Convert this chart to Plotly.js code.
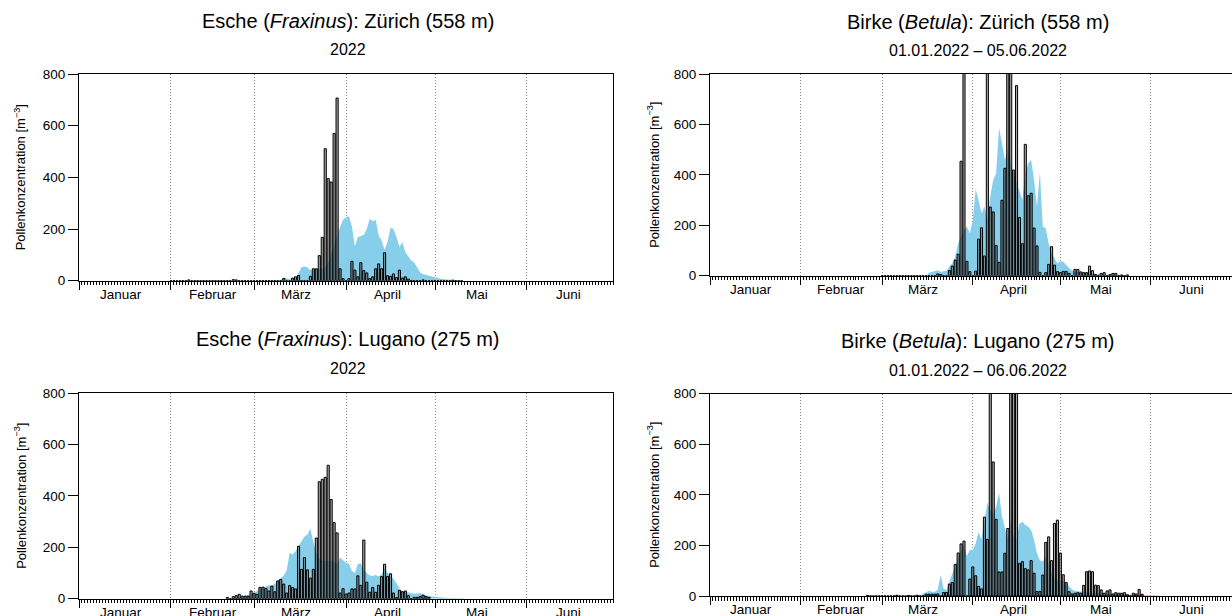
<!DOCTYPE html>
<html><head><meta charset="utf-8">
<script src="https://cdn.plot.ly/plotly-3.0.1.min.js"></script>
<style>html,body{margin:0;padding:0;background:#fff}#chart{width:1232px;height:616px}</style>
</head><body><div id="chart"></div>
<script>
// ---------- data (day index: 0 = 01.01.2022) ----------
const monthNames = ["Januar", "Februar", "März", "April", "Mai", "Juni"];
const monthStartDays = [0, 31, 59, 90, 120, 151];
const yTicks = [0, 200, 400, 600, 800];

// Esche Zürich
const zhEscheObsStart = 31;
const zhEscheObs = [0,0,0,0,0,0,3,0,0,0,0,0,0,0,0,0,0,0,0,0,0,4,3,0,0,0,0,0,
  0,0,0,0,0,0,0,0,0,0,8,0,0,10,15,20,0,0,0,17,46,46,97,168,511,395,382,570,707,46,8,
  0,8,75,41,15,70,39,30,8,15,46,65,46,108,19,17,26,12,41,10,15,6,1,0,0,0,3,0,0,0,
  0,0,0,0,0,0,2,0,0,0];
const zhEscheMeanStart = 59;
const zhEscheMean = [0,0,0,0,0,0,0,0,0,2,13,10,6,6,10,30,52,55,51,40,44,45,45,46,52,70,105,135,178,204,236,
  246,249,210,133,170,172,178,200,240,230,236,175,155,120,150,205,200,170,130,150,110,95,78,70,50,32,25,22,19,15,
  12,10,8,6,5,4,3,2,2,1,0];

// Birke Zürich
const zhBirkeObsStart = 59;
const zhBirkeObs = [0,0,0,0,0,0,0,0,0,0,0,0,0,0,0,0,0,0,0,7,5,0,0,20,38,62,85,454,960,57,16,
  0,18,145,190,78,1020,272,253,120,53,299,426,900,880,419,754,231,127,521,317,327,189,118,13,0,12,45,115,42,16,
  12,17,17,9,0,25,25,15,12,12,38,20,5,0,9,12,0,4,9,9,0,3,0,3];
const zhBirkeMeanStart = 59;
const zhBirkeMean = [0,0,0,0,0,0,0,0,0,0,0,0,0,0,0,0,12,16,20,22,16,18,20,36,49,75,128,155,181,194,168,
  220,343,300,247,274,221,315,380,406,587,525,459,505,446,406,373,340,300,406,446,459,380,274,410,194,188,128,89,69,49,
  56,56,42,29,20,16,14,12,11,10,9,8,7,7,6,5,5,4,4,3,3,2,2,1,1,0];

// Esche Lugano
const luEscheObsStart = 50;
const luEscheObs = [5,0,8,12,17,10,10,10,30,
  21,17,44,45,40,30,49,27,69,75,57,22,51,43,38,204,114,160,112,80,114,236,455,464,472,519,386,296,256,22,39,
  18,22,38,38,89,52,228,64,25,44,25,52,86,134,86,97,22,4,32,27,30,12,0,5,5,8,14,8,5];
const luEscheMeanStart = 50;
const luEscheMean = [0,1,3,5,6,8,12,15,18,
  21,30,38,44,47,52,50,58,70,79,90,110,180,172,185,205,225,242,250,272,220,180,155,148,148,148,148,145,135,160,150,
  140,136,108,100,135,138,112,100,90,88,92,86,95,118,100,88,78,60,40,30,27,24,22,19,20,22,15,12,10,
  9,8,8,6,4,4,3,3,3,2,2,1,1,0];

// Birke Lugano
const luBirkeObsStart = 54;
const luBirkeObs = [2,0,0,0,0,
  0,0,0,0,0,3,0,0,0,2,0,0,3,0,0,7,7,7,7,8,0,14,14,47,53,125,170,206,217,0,67,
  115,80,38,28,312,224,1200,530,303,95,95,169,267,1100,1300,1000,129,136,108,103,140,90,18,18,83,212,234,140,287,300,
  170,84,53,17,8,11,13,11,42,96,99,96,43,41,24,11,20,24,8,13,11,11,13,5,0,11,8,26,7];
const luBirkeMeanStart = 72;
const luBirkeMean = [0,10,15,21,17,17,25,83,30,24,57,90,116,149,182,202,158,182,
  182,208,254,221,287,369,340,327,353,408,314,261,221,300,235,221,287,294,281,274,261,221,169,140,136,155,129,90,70,63,
  57,61,50,37,26,21,19,17,16,15,14,13,12,11,10,9,9,8,8,7,7,6,6,5,5,5,4,4,4,3,3,3,2,2,1,0];

const titles = [
  "Esche (<i>Fraxinus</i>): Zürich (558 m)",
  "Birke (<i>Betula</i>): Zürich (558 m)",
  "Esche (<i>Fraxinus</i>): Lugano (275 m)",
  "Birke (<i>Betula</i>): Lugano (275 m)"
];
const subtitles = ["2022", "01.01.2022 – 05.06.2022", "2022", "01.01.2022 – 06.06.2022"];
const yTitle = "Pollenkonzentration [m<sup>−3</sup>]";

// ---------- layout geometry ----------
const W = 1232, H = 616;
const FONT = "Liberation Sans, Arial, Helvetica, sans-serif";
const panels = [
  {obsStart: zhEscheObsStart, obs: zhEscheObs, meanStart: zhEscheMeanStart, mean: zhEscheMean,
   x0: 79, x1: 613, yTop: 74, yBot: 280.7, xmax: 180, mirrorY: true, titleX: 347.5, titleY: 20.7, subY: 49.3, yTitleX: 20},
  {obsStart: zhBirkeObsStart, obs: zhBirkeObs, meanStart: zhBirkeMeanStart, mean: zhBirkeMean,
   x0: 710, x1: 1232, yTop: 74, yBot: 275.7, xmax: 178.8, mirrorY: false, titleX: 978, titleY: 21.7, subY: 50.7, yTitleX: 653},
  {obsStart: luEscheObsStart, obs: luEscheObs, meanStart: luEscheMeanStart, mean: luEscheMean,
   x0: 79, x1: 613, yTop: 393, yBot: 598.7, xmax: 180, mirrorY: true, titleX: 347.5, titleY: 339.3, subY: 368, yTitleX: 20},
  {obsStart: luBirkeObsStart, obs: luBirkeObs, meanStart: luBirkeMeanStart, mean: luBirkeMean,
   x0: 710, x1: 1232, yTop: 393.7, yBot: 596, xmax: 178.8, mirrorY: false, titleX: 978, titleY: 341, subY: 370, yTitleX: 653}
];

const data = [];
const layout = {
  width: W, height: H, margin: {l: 0, r: 0, t: 0, b: 0},
  paper_bgcolor: "#fff", plot_bgcolor: "rgba(0,0,0,0)",
  showlegend: false, font: {family: FONT, color: "#000"},
  annotations: [], bargap: 0
};

panels.forEach((p, i) => {
  const k = i + 1;
  const sfx = k === 1 ? "" : String(k);
  const ok = k + 4;
  const xd = [p.x0 / W, p.x1 / W];
  const yd = [1 - p.yBot / H, 1 - p.yTop / H];

  layout["xaxis" + sfx] = {
    domain: xd, range: [0, p.xmax], anchor: "y" + sfx, fixedrange: true,
    tickmode: "array", tickvals: monthStartDays, showticklabels: false,
    ticks: "outside", ticklen: 8, tickwidth: 1, tickcolor: "#000",
    showgrid: true, gridcolor: "#8a8a8a", griddash: "1px,2px", gridwidth: 1,
    showline: true, linecolor: "#000", linewidth: 1, mirror: true, zeroline: false,
    minor: {tickmode: "linear", tick0: 0, dtick: 1, ticks: "outside", ticklen: 3.5, tickwidth: 1, tickcolor: "#000", showgrid: false}
  };
  layout["yaxis" + sfx] = {
    domain: yd, range: [0, 800], anchor: "x" + sfx, fixedrange: true,
    tickmode: "array", tickvals: yTicks, ticks: "outside", ticklen: 10, tickwidth: 1, tickcolor: "#000",
    tickfont: {family: FONT, size: 13.5, color: "#000"},
    showline: true, linecolor: "#000", linewidth: 1, mirror: p.mirrorY,
    showgrid: false, zeroline: false
  };
  layout["xaxis" + ok] = {overlaying: "x" + sfx, range: [0, p.xmax], anchor: "y" + ok, visible: false, fixedrange: true};
  layout["yaxis" + ok] = {overlaying: "y" + sfx, range: [0, 800], anchor: "x" + ok, visible: false, fixedrange: true};

  data.push({
    type: "scatter", mode: "lines",
    x: p.mean.map((v, j) => p.meanStart + j), y: p.mean,
    line: {width: 0, color: "#87CEEB"}, fill: "tozeroy", fillcolor: "#87CEEB",
    xaxis: "x" + sfx, yaxis: "y" + sfx, hoverinfo: "skip"
  });
  data.push({
    type: "bar",
    x: p.obs.map((v, j) => p.obsStart + j), y: p.obs, width: 0.72,
    marker: {color: "rgba(110,110,110,0.6)", line: {color: "#000", width: 1}},
    xaxis: "x" + ok, yaxis: "y" + ok, hoverinfo: "skip"
  });

  layout.annotations.push({
    text: titles[i], xref: "paper", yref: "paper", x: p.titleX / W, y: 1 - p.titleY / H,
    xanchor: "center", yanchor: "middle", showarrow: false, font: {family: FONT, size: 20, color: "#000"}
  });
  layout.annotations.push({
    text: subtitles[i], xref: "paper", yref: "paper", x: p.titleX / W, y: 1 - p.subY / H,
    xanchor: "center", yanchor: "middle", showarrow: false, font: {family: FONT, size: 16, color: "#000"}
  });
  layout.annotations.push({
    text: yTitle, xref: "paper", yref: "paper", x: p.yTitleX / W, y: 1 - ((p.yTop + p.yBot) / 2) / H,
    xanchor: "center", yanchor: "middle", textangle: -90, showarrow: false,
    font: {family: FONT, size: 13, color: "#000"}
  });
  monthNames.forEach((m, j) => {
    layout.annotations.push({
      text: m, xref: "x" + sfx, yref: "y" + sfx + " domain", x: monthStartDays[j] + 14, y: 0,
      xanchor: "center", yanchor: "top", yshift: -4, showarrow: false,
      font: {family: FONT, size: 13.5, color: "#000"}
    });
  });
});

Plotly.newPlot("chart", data, layout, {displayModeBar: false, staticPlot: true});
</script>
</body></html>
